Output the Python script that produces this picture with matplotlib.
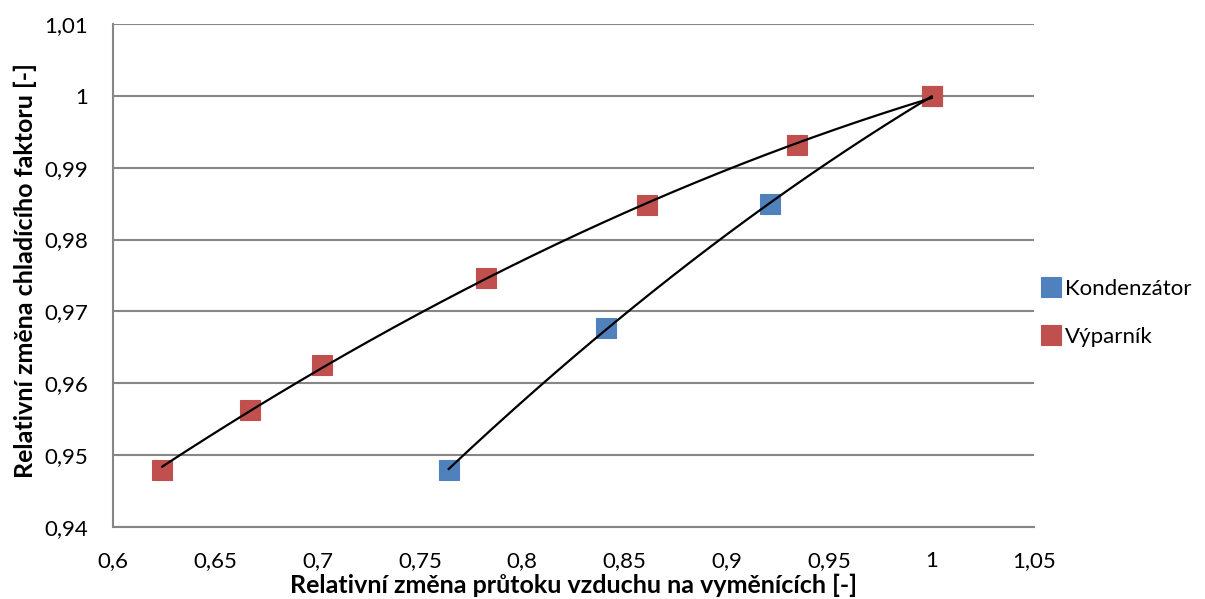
import numpy as np
import matplotlib.pyplot as plt
from matplotlib.ticker import FuncFormatter, MultipleLocator

# -----------------------------------
# DATA
# -----------------------------------

kond_x = [0.764, 0.841, 0.921, 1.0]
kond_y = [0.948, 0.9677, 0.9849, 1.0]

vyp_x = [0.624, 0.667, 0.702, 0.782, 0.861, 0.934, 1.0]
vyp_y = [0.948, 0.9563, 0.9626, 0.9746, 0.9848, 0.9931, 1.0]

nazvy = ['Kondenzátor', 'Výparník']

MODRA = '#4F81BD'
CERVENA = '#C0504D'
SEDA = '#868686'

plt.rcParams['font.family'] = ['Lato', 'DejaVu Sans']

# -----------------------------------
# GRAF
# -----------------------------------

fig = plt.figure(figsize=(12.05, 5.99), dpi=100)
ax = fig.add_axes([0.0938, 0.1202, 0.7643, 0.8397])

for xs, ys, barva, nazev in [(kond_x, kond_y, MODRA, nazvy[0]),
                             (vyp_x, vyp_y, CERVENA, nazvy[1])]:
    ax.plot(xs, ys, 's', color=barva, markersize=14.5,
            markeredgecolor=barva, markeredgewidth=0.8,
            linestyle='none', label=nazev, zorder=3)

# polynomicke spojnice trendu (2. radu)
for xs, ys in [(kond_x, kond_y), (vyp_x, vyp_y)]:
    koef = np.polyfit(xs, ys, 2)
    xx = np.linspace(min(xs), max(xs), 200)
    ax.plot(xx, np.polyval(koef, xx), color='black', linewidth=1.6, zorder=4)

ax.set_xlim(0.6, 1.05)
ax.set_ylim(0.94, 1.01)
ax.xaxis.set_major_locator(MultipleLocator(0.05))
ax.yaxis.set_major_locator(MultipleLocator(0.01))

carka = FuncFormatter(lambda v, pos: ('%g' % round(v, 4)).replace('.', ','))
ax.xaxis.set_major_formatter(carka)
ax.yaxis.set_major_formatter(carka)

ax.grid(axis='y', color=SEDA, linewidth=1.5)
ax.set_axisbelow(True)
for strana in ['top', 'right']:
    ax.spines[strana].set_visible(False)
for strana in ['left', 'bottom']:
    ax.spines[strana].set_color(SEDA)
    ax.spines[strana].set_linewidth(1.5)

ax.tick_params(axis='both', length=0, labelsize=16)
ax.tick_params(axis='x', pad=17)
ax.tick_params(axis='y', pad=18)

ax.set_xlabel('Relativní změna průtoku vzduchu na vyměnících [-]',
              fontsize=18, fontweight='bold', va='baseline')
ax.xaxis.set_label_coords(0.5, -0.131)
ax.set_ylabel('Relativní změna chladícího faktoru [-]',
              fontsize=18, fontweight='bold')
ax.yaxis.set_label_coords(-0.083, 0.509)

ax.legend(loc='center left', bbox_to_anchor=(1.0, 0.426), frameon=False,
          fontsize=16, handlelength=0.7, handletextpad=0.3,
          labelspacing=1.25, borderaxespad=0.0, markerscale=1.0)

fig.savefig('out.png', dpi=100)
